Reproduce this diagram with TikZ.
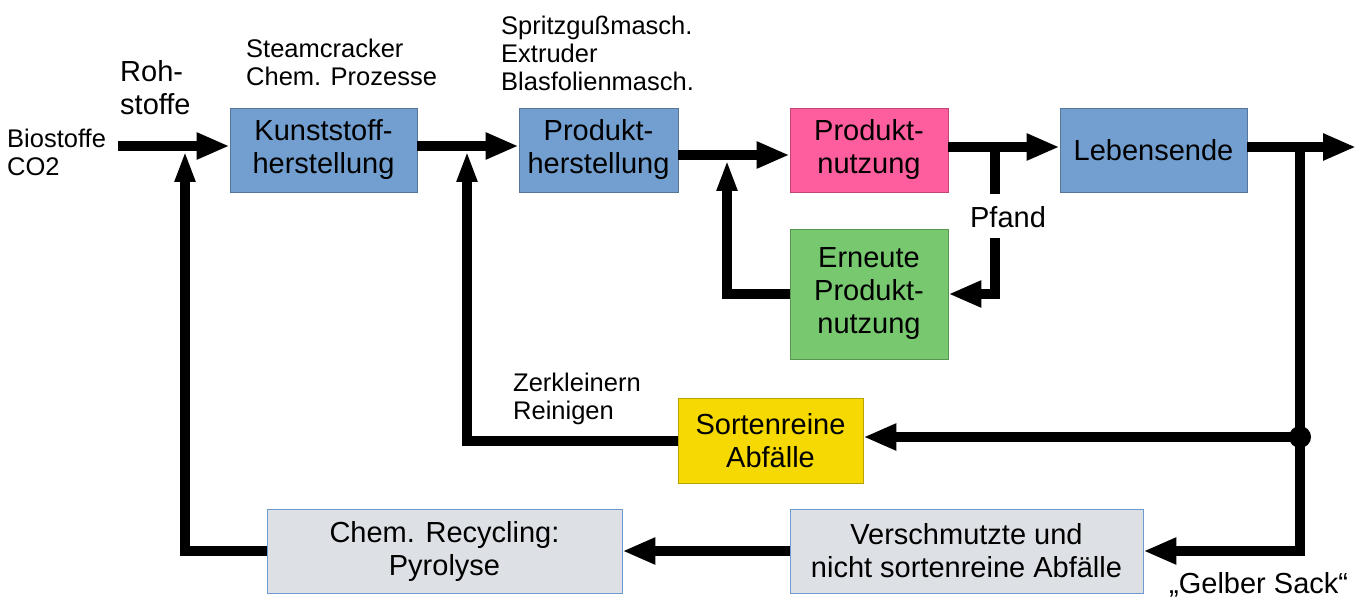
\documentclass[tikz,border=0pt]{standalone}
\usepackage{fontspec}
\setmainfont{Liberation Sans}
\usetikzlibrary{arrows.meta}
\definecolor{cblue}{HTML}{729FCF}
\definecolor{cpink}{HTML}{FF5E9E}
\definecolor{cgreen}{HTML}{77C86E}
\definecolor{cyellow}{HTML}{F5D900}
\definecolor{cgray}{HTML}{DDE0E4}
\definecolor{cborder}{HTML}{6F9AD0}
\begin{document}
\begin{tikzpicture}[x=1pt,y=-1pt,
  bigfont/.style={font=\fontsize{29}{33}\selectfont},
  smallfont/.style={font=\fontsize{25.5}{28}\selectfont},
  box/.style={draw=#1!75!black, fill=#1, line width=0.9pt, align=center, inner sep=0pt, bigfont},
  graybox/.style={draw=cborder, fill=cgray, line width=0.9pt, align=center, inner sep=0pt, bigfont},
  lbl/.style={align=left, inner sep=0pt, anchor=west},
  conn/.style={line width=10pt},
  arr/.style={line width=10pt, -{Triangle[length=33pt,width=25pt]}},
  varr/.style={line width=10pt, -{Triangle[length=31pt,width=19pt]}},
  dotnode/.style={circle, fill=black, inner sep=0pt, minimum size=22pt}
]
\useasboundingbox (0,0) rectangle (1366,599);
\fill[white] (0,0) rectangle (1366,599);

% boxes
\node[box=cblue, minimum width=187pt, minimum height=84pt] (ks) at (323.5,150) {Kunststoff-\\herstellung};
\node[box=cblue, minimum width=159pt, minimum height=84pt] (ph) at (598.5,150) {Produkt-\\herstellung};
\node[box=cpink, minimum width=158pt, minimum height=84pt] (pn) at (869,150) {Produkt-\\nutzung};
\node[box=cblue, minimum width=187pt, minimum height=84pt] (le) at (1153.5,150) {Lebensende};
\node[box=cgreen, minimum width=158pt, minimum height=130pt] (en) at (869,294) {Erneute\\Produkt-\\nutzung};
\node[box=cyellow, minimum width=185pt, minimum height=85pt] (sa) at (770.5,440.5) {Sortenreine\\Abfälle};
\node[graybox, minimum width=355pt, minimum height=84pt] (cr) at (444.5,551) {Chem. Recycling:\\Pyrolyse};
\node[graybox, minimum width=353pt, minimum height=84pt] (vs) at (966.5,551) {Verschmutzte und\\nicht sortenreine Abfälle};

% labels
\node[lbl, smallfont] (bio) at (7,152) {Biostoffe\\CO2};
\node[lbl, bigfont] (roh) at (120,88) {Roh-\\stoffe};
\node[lbl, smallfont] (steam) at (246,62) {Steamcracker\\Chem. Prozesse};
\node[lbl, smallfont] (spritz) at (501,53) {Spritzgußmasch.\\Extruder\\Blasfolienmasch.};
\node[lbl, smallfont] (zerk) at (513,399) {Zerkleinern\\Reinigen};
\node[bigfont, inner sep=0pt] (pf) at (1008,217) {Pfand};
\node[lbl, bigfont] (gs) at (1169,584.5) {„Gelber Sack“};

% coordinates
\coordinate (in) at (118,146);
\coordinate (j1) at (185,151);
\coordinate (j2) at (467,151);
\coordinate (j3) at (727,160);
\coordinate (p1) at (995,147);
\coordinate (p2) at (995,194);
\coordinate (p3) at (995,238);
\coordinate (q1) at (1300,147);
\coordinate (out) at (1356,147);
\node[dotnode] (dt) at (1300,437) {};

% connectors
\draw[arr] (in) -- (in -| ks.west);
\draw[arr] ([yshift=4pt]ks.east) -- ([yshift=4pt]ph.west);
\draw[arr] ([yshift=-5pt]ph.east) -- ([yshift=-5pt]pn.west);
\draw[arr] ([yshift=3pt]pn.east) -- ([yshift=3pt]le.west);
\draw[arr] ([yshift=3pt]le.east) -- (out);
\draw[conn] (p1) -- (p2);
\draw[arr] (p3) |- (en.east);
\draw[varr] (en.west) -| (j3);
\draw[arr] (q1) |- (vs.east);
\draw[arr] (dt.center) -- (dt.center -| sa.east);
\draw[varr] (sa.west) -| (j2);
\draw[arr] (vs.west) -- (cr.east);
\draw[varr] (cr.west) -| (j1);
\end{tikzpicture}
\end{document}
